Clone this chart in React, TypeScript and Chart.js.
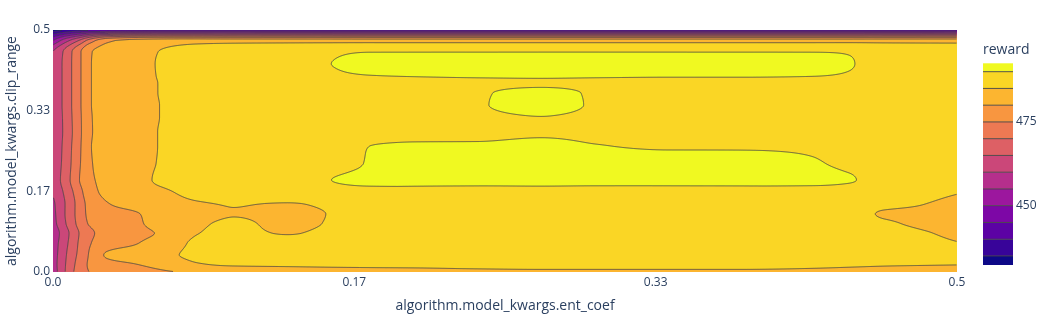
import React, { useEffect, useRef } from "react";
import { Chart, registerables } from "chart.js";

Chart.register(...registerables);

// x axis: algorithm.model_kwargs.ent_coef (grid nodes)
const ENT_COEF = [0, 0.005, 0.01, 0.015, 0.02, 0.03, 0.045, 0.06, 0.08, 0.1, 0.13, 0.155, 0.175, 0.2, 0.235, 0.27, 0.3, 0.34, 0.38, 0.42, 0.44, 0.46, 0.48, 0.5];
// y axis: algorithm.model_kwargs.clip_range (grid nodes, top row first)
const CLIP_RANGE = [0.5, 0.478, 0.455, 0.43, 0.405, 0.39, 0.37, 0.345, 0.32, 0.29, 0.26, 0.225, 0.19, 0.165, 0.14, 0.12, 0.1, 0.08, 0.06, 0.035, 0.015, 0];
// reward at each (clip_range row, ent_coef column)
const REWARD = [
  [432.5, 434, 436, 437.5, 438.5, 439.5, 440.5, 441, 441, 441, 441, 441, 441, 441, 441, 441, 441, 441, 441, 441, 441, 441, 441, 441],
  [450, 456, 461, 466, 472, 479, 481.5, 482.5, 483, 483, 483, 483, 483, 483, 483, 483, 483, 483, 483, 483, 483, 483, 483, 483],
  [460, 464.5, 469.5, 474.5, 479.3, 482, 483.5, 485.2, 487.2, 488.3, 489, 489.5, 489.9, 489.9, 489.9, 489.9, 489.9, 489.9, 489.9, 489.9, 489.8, 489, 488.7, 488.5],
  [461, 465, 469.7, 474.5, 479.5, 482, 483.6, 485.4, 487.3, 488.3, 489.2, 490.05, 491.5, 491.8, 492, 492.2, 492.2, 492.1, 492, 491.6, 490.25, 489, 488.8, 488.6],
  [460.2, 465, 469.7, 474.5, 479.5, 482, 483.8, 485.3, 487.5, 488.4, 489, 489.5, 489.9, 490.1, 490.3, 490.4, 490.3, 490.2, 490.2, 490.05, 489.7, 489, 488.8, 488.6],
  [460, 465, 469.7, 474.5, 479.5, 482, 483.8, 485.2, 487.5, 488.4, 489, 489.1, 489.2, 489.2, 489.3, 489.4, 489.3, 489.2, 489.2, 489.1, 489, 488.8, 488.6, 488.5],
  [460, 465, 469.7, 474.5, 479.5, 482, 483.8, 485.2, 487.6, 488.4, 489, 489.2, 489.3, 489.4, 489.75, 491, 489.7, 489.3, 489.2, 489.1, 489, 488.8, 488.6, 488.5],
  [460.5, 465, 469.7, 474.5, 479.5, 482, 483.8, 485.1, 487.3, 488.3, 488.9, 489.1, 489.2, 489.3, 489.8, 491.2, 489.75, 489.3, 489.2, 489.1, 489, 488.8, 488.6, 488.5],
  [461, 464.8, 469.5, 474.3, 479.3, 482, 483.8, 485.1, 487.3, 488.3, 488.8, 489, 489.1, 489.2, 489.4, 489.95, 489.4, 489.2, 489.1, 489, 488.9, 488.7, 488.6, 488.5],
  [461, 464.7, 469.3, 474.2, 479.2, 482, 483.8, 485.2, 487.2, 488.2, 488.6, 488.8, 488.8, 488.9, 488.9, 489.4, 489.1, 488.9, 488.8, 488.8, 488.7, 488.6, 488.5, 488.4],
  [461, 465, 469.7, 474.5, 479.5, 482, 483.8, 485.2, 487.2, 488.2, 488.8, 489.3, 490.0, 490.5, 490.6, 491.3, 490.2, 489.6, 489.6, 489.5, 489, 488.8, 488.6, 488.5],
  [461, 465.3, 470, 474.8, 479.3, 481.8, 483.7, 485.3, 487.2, 488.2, 488.7, 489, 490.2, 491.5, 491.8, 492.3, 492, 491.5, 491.3, 490.3, 489.4, 488.9, 488.7, 488.5],
  [461.5, 465.8, 470.5, 475.3, 479, 481.3, 483.6, 485.6, 487, 487.9, 488.5, 490.05, 490.9, 491.2, 491.2, 491.3, 491.2, 491.1, 491.1, 491, 490.3, 488.8, 488.6, 488.5],
  [460.5, 464.5, 469, 473.5, 478.2, 481, 483, 484.3, 486.3, 487.5, 488.2, 488.5, 488.7, 488.7, 488.7, 488.8, 488.7, 488.7, 488.7, 488.6, 488.3, 487.5, 486.5, 485.3],
  [459, 463.5, 468, 472.5, 476.5, 479.7, 481.5, 483, 484.5, 485.2, 484.7, 486, 487.3, 488, 488.3, 488.3, 488.3, 488.3, 488.3, 488.2, 487.5, 486, 485.1, 484],
  [458.5, 463.5, 468, 472.5, 476, 478, 479.6, 481.5, 483.2, 484.8, 483.8, 485.3, 486.8, 487.8, 488.3, 488.3, 488.3, 488.3, 488.3, 488.2, 487, 484.6, 484.3, 483.5],
  [458, 463, 467.5, 472, 475.3, 477, 479.2, 481.5, 484.2, 485.8, 483.8, 485.5, 486.8, 487.8, 488.3, 488.3, 488.3, 488.3, 488.3, 488.2, 487.6, 485.6, 484.4, 483.5],
  [456, 461.5, 466, 470.5, 474, 476.5, 478.8, 480.5, 484.9, 486.2, 484.7, 486.5, 487.3, 487.9, 488.2, 488.2, 488.2, 488.2, 488.2, 488, 487.8, 486.8, 485.5, 484],
  [457, 462, 466.5, 471, 474.5, 477.5, 479.6, 482, 485.8, 486.8, 487.5, 487.8, 488, 488.2, 488.2, 488.2, 488.2, 488.2, 488.2, 488, 487.9, 487.2, 486.4, 485.2],
  [457.5, 462.5, 467.5, 471.5, 475.3, 480.6, 482.5, 484, 485.9, 487, 487.5, 487.8, 488, 488, 488, 488, 488, 488, 488, 488, 487.9, 487.7, 487.3, 487],
  [457.5, 463, 468, 472.5, 475.5, 478, 479.7, 481.5, 484.6, 485.4, 485.6, 485.8, 485.9, 486, 486.5, 487, 487, 487, 487, 486.3, 485.8, 485.4, 485.2, 485.05],
  [457, 463, 468.5, 473, 475, 476.5, 478, 479.3, 480.8, 482, 482.8, 483.2, 483.4, 483.5, 483.6, 483.6, 483.6, 483.6, 483.6, 483.4, 483.2, 483, 482.8, 482.5],
];

const LEVELS = [435, 440, 445, 450, 455, 460, 465, 470, 475, 480, 485, 490];
const COLOR_MIN = 432.3;
const COLOR_MAX = 492.5;
const AXIS_TICKS = [0, 1 / 6, 1 / 3, 0.5];
const AXIS_TICK_LABELS = ["0.0", "0.17", "0.33", "0.5"];
const COLORBAR_TICKS = [450, 475];
const COLORBAR_TITLE = "reward";
const PLASMA = ["#0d0887", "#46039f", "#7201a8", "#9c179e", "#bd3786", "#d8576b", "#ed7953", "#fb9f3a", "#fdca26", "#f0f921"];

const FONT = "'Open Sans', verdana, arial, sans-serif";
const TEXT_COLOR = "#2a3f5f";
const LINE_COLOR = "#444";

function hexToRgb(h: string): number[] {
  return [parseInt(h.slice(1, 3), 16), parseInt(h.slice(3, 5), 16), parseInt(h.slice(5, 7), 16)];
}
function plasma(t: number): number[] {
  const n = PLASMA.length - 1;
  const p = Math.max(0, Math.min(1, t)) * n;
  const i = Math.min(n - 1, Math.floor(p));
  const f = p - i;
  const a = hexToRgb(PLASMA[i]);
  const b = hexToRgb(PLASMA[i + 1]);
  return [0, 1, 2].map((k) => Math.round(a[k] + (b[k] - a[k]) * f));
}
const BAND_COLORS = Array.from({ length: LEVELS.length + 1 }, (_, k) => plasma(k / LEVELS.length));

function bandOf(z: number): number {
  let k = 0;
  while (k < LEVELS.length && z >= LEVELS[k]) k++;
  return k;
}

function pchipSlopes(xs: number[], ys: number[]): number[] {
  const n = xs.length;
  const h: number[] = [];
  const d: number[] = [];
  for (let i = 0; i < n - 1; i++) {
    h[i] = xs[i + 1] - xs[i];
    d[i] = (ys[i + 1] - ys[i]) / h[i];
  }
  const m = new Array(n).fill(0);
  m[0] = d[0];
  m[n - 1] = d[n - 2];
  for (let i = 1; i < n - 1; i++) {
    if (d[i - 1] * d[i] <= 0) m[i] = 0;
    else {
      const w1 = 2 * h[i] + h[i - 1];
      const w2 = h[i] + 2 * h[i - 1];
      m[i] = (w1 + w2) / (w1 / d[i - 1] + w2 / d[i]);
    }
  }
  return m;
}
function pchipEval(xs: number[], ys: number[], m: number[], x: number): number {
  const n = xs.length;
  if (x <= xs[0]) return ys[0];
  if (x >= xs[n - 1]) return ys[n - 1];
  let i = 0;
  while (i < n - 2 && x > xs[i + 1]) i++;
  const h = xs[i + 1] - xs[i];
  const t = (x - xs[i]) / h;
  const t2 = t * t;
  const t3 = t2 * t;
  return (2 * t3 - 3 * t2 + 1) * ys[i] + (t3 - 2 * t2 + t) * h * m[i] + (-2 * t3 + 3 * t2) * ys[i + 1] + (t3 - t2) * h * m[i + 1];
}

const contourPlugin = {
  id: "contourFill",
  beforeDatasetsDraw(chart: any) {
    const { ctx, chartArea, scales } = chart;
    const xs = scales.x;
    const ys = scales.y;
    const left = Math.round(chartArea.left);
    const top = Math.round(chartArea.top);
    const W = Math.round(chartArea.right) - left;
    const H = Math.round(chartArea.bottom) - top;
    const yAsc = CLIP_RANGE.slice().reverse();
    const rowsAsc = REWARD.slice().reverse();
    const rowSlopes = rowsAsc.map((r) => pchipSlopes(ENT_COEF, r));
    const yVals: number[] = [];
    for (let py = 0; py < H; py++) yVals.push(ys.getValueForPixel(top + py + 0.5));
    const F = new Float32Array(W * H);
    for (let px = 0; px < W; px++) {
      const x = xs.getValueForPixel(left + px + 0.5);
      const col = rowsAsc.map((r, j) => pchipEval(ENT_COEF, r, rowSlopes[j], x));
      const ms = pchipSlopes(yAsc, col);
      for (let py = 0; py < H; py++) F[py * W + px] = pchipEval(yAsc, col, ms, yVals[py]);
    }
    const off = document.createElement("canvas");
    off.width = W;
    off.height = H;
    const octx = off.getContext("2d")!;
    const img = octx.createImageData(W, H);
    for (let i = 0; i < W * H; i++) {
      const c = BAND_COLORS[bandOf(F[i])];
      img.data[i * 4] = c[0];
      img.data[i * 4 + 1] = c[1];
      img.data[i * 4 + 2] = c[2];
      img.data[i * 4 + 3] = 255;
    }
    octx.putImageData(img, 0, 0);
    ctx.save();
    ctx.drawImage(off, left, top);
    ctx.beginPath();
    ctx.rect(left, top, W, H);
    ctx.clip();
    ctx.beginPath();
    for (let j = 0; j < H - 1; j++) {
      for (let i = 0; i < W - 1; i++) {
        const a = F[j * W + i];
        const b = F[j * W + i + 1];
        const c = F[(j + 1) * W + i + 1];
        const d = F[(j + 1) * W + i];
        const mn = Math.min(a, b, c, d);
        const mx = Math.max(a, b, c, d);
        const x0 = left + i + 0.5;
        const y0 = top + j + 0.5;
        for (const L of LEVELS) {
          if (L <= mn || L > mx) continue;
          const pts: number[][] = [];
          if (a >= L !== b >= L) pts.push([x0 + (L - a) / (b - a), y0]);
          if (b >= L !== c >= L) pts.push([x0 + 1, y0 + (L - b) / (c - b)]);
          if (c >= L !== d >= L) pts.push([x0 + (L - d) / (c - d), y0 + 1]);
          if (d >= L !== a >= L) pts.push([x0, y0 + (L - a) / (d - a)]);
          for (let k = 0; k + 1 < pts.length; k += 2) {
            ctx.moveTo(pts[k][0], pts[k][1]);
            ctx.lineTo(pts[k + 1][0], pts[k + 1][1]);
          }
        }
      }
    }
    ctx.strokeStyle = LINE_COLOR;
    ctx.lineWidth = 0.85;
    ctx.stroke();
    ctx.restore();
  },
  afterDraw(chart: any) {
    const { ctx } = chart;
    const x0 = 983;
    const w = 30;
    const yTop = 63.3;
    const yBot = 265;
    const toY = (v: number) => yBot - ((v - COLOR_MIN) / (COLOR_MAX - COLOR_MIN)) * (yBot - yTop);
    ctx.save();
    const bounds = [COLOR_MIN, ...LEVELS, COLOR_MAX];
    for (let k = 0; k < bounds.length - 1; k++) {
      const c = BAND_COLORS[k];
      ctx.fillStyle = `rgb(${c[0]},${c[1]},${c[2]})`;
      const y1 = toY(bounds[k]);
      const y2 = toY(bounds[k + 1]);
      ctx.fillRect(x0, y2, w, y1 - y2);
    }
    ctx.strokeStyle = LINE_COLOR;
    ctx.lineWidth = 0.9;
    ctx.beginPath();
    for (const L of LEVELS) {
      const y = toY(L);
      ctx.moveTo(x0, y);
      ctx.lineTo(x0 + w, y);
    }
    ctx.stroke();
    ctx.fillStyle = TEXT_COLOR;
    ctx.font = `12px ${FONT}`;
    ctx.textAlign = "left";
    ctx.textBaseline = "middle";
    for (const t of COLORBAR_TICKS) ctx.fillText(String(t), x0 + w + 3, toY(t));
    ctx.font = `14px ${FONT}`;
    ctx.textBaseline = "middle";
    ctx.fillText(COLORBAR_TITLE, x0, 50);
    ctx.restore();
  },
};

function tickLabel(v: number): string {
  const i = AXIS_TICKS.findIndex((t) => Math.abs(t - v) < 1e-9);
  return i >= 0 ? AXIS_TICK_LABELS[i] : "";
}

export default function App() {
  const ref = useRef<HTMLCanvasElement>(null);
  useEffect(() => {
    document.body.style.margin = "0";
    const points: { x: number; y: number }[] = [];
    CLIP_RANGE.forEach((y) => ENT_COEF.forEach((x) => points.push({ x, y })));
    const axisCommon = (title: string) => ({
      type: "linear" as const,
      min: 0,
      max: 0.5,
      afterBuildTicks: (s: any) => {
        s.ticks = AXIS_TICKS.map((v) => ({ value: v }));
      },
      grid: { display: false, drawTicks: false, tickLength: 0 },
      border: { display: false },
      ticks: {
        autoSkip: false,
        maxRotation: 0,
        padding: 3,
        color: TEXT_COLOR,
        font: { family: FONT, size: 12 },
        callback: (v: any) => tickLabel(Number(v)),
      },
      title: { display: true, text: title, color: TEXT_COLOR, font: { family: FONT, size: 14 } },
    });
    const xAxis: any = axisCommon("algorithm.model_kwargs.ent_coef");
    xAxis.afterFit = (s: any) => {
      s.height = 42;
    };
    xAxis.title.padding = { top: 0, bottom: 0 };
    const yAxis: any = axisCommon("algorithm.model_kwargs.clip_range");
    yAxis.afterFit = (s: any) => {
      s.width = 53;
    };
    yAxis.title.padding = { top: 4, bottom: 0 };
    const chart = new Chart(ref.current!, {
      type: "scatter",
      data: { datasets: [{ data: points, pointRadius: 0, showLine: false }] },
      options: {
        animation: false,
        responsive: false,
        devicePixelRatio: 1,
        events: [],
        layout: { padding: { left: 0, right: 88, top: 30, bottom: 0 } },
        plugins: { legend: { display: false }, tooltip: { enabled: false } },
        scales: { x: xAxis, y: yAxis },
      },
      plugins: [contourPlugin],
    } as any);
    return () => chart.destroy();
  }, []);
  return (
    <div style={{ width: 1045, height: 314 }}>
      <canvas ref={ref} width={1045} height={314} style={{ display: "block", width: 1045, height: 314 }} />
    </div>
  );
}
